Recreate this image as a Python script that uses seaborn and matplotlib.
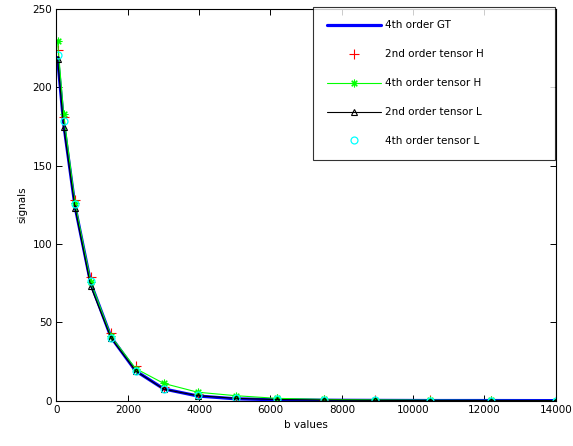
import numpy as np
import pandas as pd
import seaborn as sns
import matplotlib
matplotlib.use("Agg")
import matplotlib.pyplot as plt

# b values and signals
b_values = [30, 200, 520, 960, 1530, 2220, 3010, 3960, 5020, 6170, 7490, 8920, 10460, 12170, 14000]
gt_4th = [219, 177, 124, 75, 40.5, 19, 7.5, 3.0, 1.2, 0.6, 0.3, 0.2, 0.1, 0.1, 0.05]
tensor2_H = [224, 181, 128, 79, 43.5, 22, 9.0, 4.0, 2.0, 1.0, 0.5, 0.3, 0.2, 0.1, 0.1]
tensor4_H = [229.5, 183, 126, 76, 41, 20.5, 11, 5.4, 3.2, 1.5, 0.8, 0.5, 0.3, 0.2, 0.1]
tensor2_L = [218, 175, 123, 73, 40, 19, 7.3, 3.2, 1.5, 0.7, 0.4, 0.2, 0.1, 0.1, 0.05]
tensor4_L = [221, 178.7, 125.3, 76.4, 40.2, 19.1, 7.3, 3.4, 1.7, 0.8, 0.4, 0.2, 0.1, 0.1, 0.05]

df = pd.DataFrame({
    "b": b_values,
    "gt": gt_4th,
    "h2": tensor2_H,
    "h4": tensor4_H,
    "l2": tensor2_L,
    "l4": tensor4_L,
})

sns.set_style("white")
plt.rcParams["font.family"] = ["DejaVu Sans"]
plt.rcParams["font.size"] = 7
plt.rcParams["text.color"] = "black"
plt.rcParams["axes.labelcolor"] = "black"

fig = plt.figure(figsize=(5.73, 4.46), dpi=100)
ax = fig.add_axes([0.0986, 0.1016, 0.8714, 0.878])

sns.lineplot(data=df, x="b", y="gt", color="#0000ff", lw=2.3, label="4th order GT", ax=ax)
sns.lineplot(data=df, x="b", y="h2", color="#ff0000", linestyle="none", marker="+",
             markersize=6.5, markeredgewidth=0.8, markeredgecolor="#ff0000",
             label="2nd order tensor H", ax=ax)
# asterisk marker like matlab's '*'
sns.lineplot(data=df, x="b", y="h4", color="#00ff00", lw=0.8, marker=(8, 2, 0),
             markersize=5.5, markeredgewidth=0.8, markeredgecolor="#00ff00",
             label="4th order tensor H", ax=ax)
sns.lineplot(data=df, x="b", y="l2", color="black", lw=0.8, marker="^",
             markersize=4, markerfacecolor="none", markeredgecolor="black",
             markeredgewidth=0.8, label="2nd order tensor L", ax=ax)
sns.lineplot(data=df, x="b", y="l4", color="#00ffff", linestyle="none", marker="o",
             markersize=5, markerfacecolor="none", markeredgecolor="#00ffff",
             markeredgewidth=0.9, label="4th order tensor L", ax=ax)

ax.set_xlim(0, 14000)
ax.set_ylim(0, 250)
ax.set_xticks(np.arange(0, 14001, 2000))
ax.set_yticks(np.arange(0, 251, 50))
ax.set_xlabel("b values", fontsize=7.5)
ax.set_ylabel("signals", fontsize=7.5)

for s in ax.spines.values():
    s.set_visible(True)
    s.set_color("black")
    s.set_linewidth(0.8)
ax.tick_params(direction="in", length=4, width=0.7, top=True, right=True,
               bottom=True, left=True, labelsize=7.5, pad=3, colors="black")

leg = ax.legend(loc="upper left", bbox_to_anchor=(0.514, 0.62, 0.485, 0.386),
                mode="expand", fontsize=7.5, frameon=True, fancybox=False,
                handlelength=5.2, handletextpad=0.4, labelspacing=1.82,
                borderpad=1.3, borderaxespad=0)
leg.get_frame().set_edgecolor("black")
leg.get_frame().set_linewidth(0.8)

fig.savefig("out.png", dpi=100)
